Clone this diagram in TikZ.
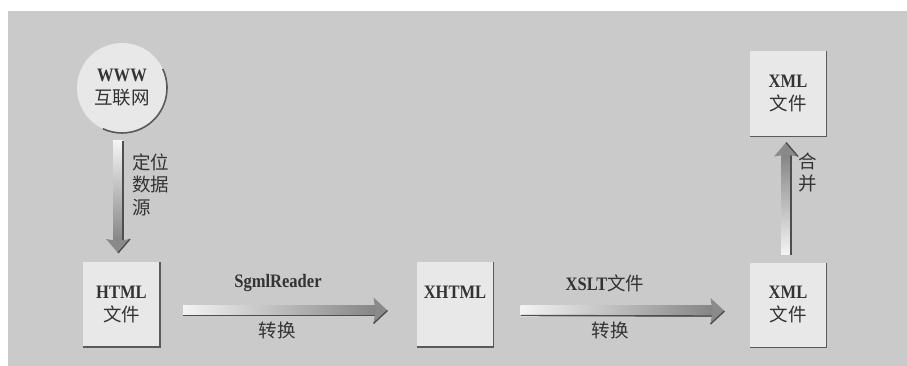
\documentclass[tikz,border=0pt]{standalone}
\usepackage{fontspec}
\setmainfont{Liberation Serif}[FakeStretch=0.87]
\newfontfamily\cjk{Noto Sans CJK SC}
\usetikzlibrary{calc}
\definecolor{bg}{HTML}{CACACA}
\definecolor{boxfill}{HTML}{E8E8E8}
\definecolor{txt}{HTML}{333333}
\definecolor{shadowc}{HTML}{5A5A5A}
\definecolor{shLight}{HTML}{F4F4F4}
\definecolor{shMid}{HTML}{C2C2C2}
\definecolor{shDark}{HTML}{858585}
\definecolor{headc}{HTML}{8A8A8A}
\definecolor{edgec}{HTML}{4E4E4E}
\tikzset{
  doc/.style={fill=boxfill, minimum width=77pt, minimum height=85pt, inner sep=0pt, outer sep=0pt,
    align=center, text=txt, font=\bfseries\fontsize{19}{23}\selectfont},
  shadowln/.style={draw=shadowc, line width=1.6pt},
  lbl/.style={text=txt, inner sep=1pt, font=\bfseries\fontsize{19}{22}\selectfont},
  cjklbl/.style={text=txt, inner sep=1pt, align=left, font=\cjk\fontsize{18.5}{22.5}\selectfont},
  arrline/.style={draw=edgec, line width=1.4pt},
}
\newcommand\cj[1]{{\cjk\mdseries\fontsize{18.5}{23}\selectfont #1}}
\newcommand\fatright[2]{%
  \shade[left color=shLight, middle color=shMid, right color=shDark] ($(#1)+(0,5)$) rectangle ($(#2)+(-12,-5)$);
  \draw[arrline] ($(#1)+(0,-5)$) -- ($(#2)+(-12,-5)$);
  \fill[headc] ($(#2)+(-14,13)$) -- (#2) -- ($(#2)+(-14,-13)$) -- ($(#2)+(-12,0)$) -- cycle;
  \draw[arrline] (#2) -- ($(#2)+(-14,-13)$);
}
\newcommand\fatdown[2]{%
  \shade[top color=shLight, middle color=shMid, bottom color=shDark] ($(#1)+(-5,0)$) rectangle ($(#2)+(5,12)$);
  \draw[arrline] ($(#1)+(5,0)$) -- ($(#2)+(5,12)$);
  \fill[headc] ($(#2)+(-12,14)$) -- (#2) -- ($(#2)+(12,14)$) -- ($(#2)+(0,12)$) -- cycle;
  \draw[arrline] (#2) -- ($(#2)+(12,14)$);
}
\newcommand\fatup[2]{%
  \shade[bottom color=shLight, middle color=shMid, top color=shDark] ($(#1)+(-5,0)$) rectangle ($(#2)+(5,-12)$);
  \draw[arrline] ($(#1)+(5,0)$) -- ($(#2)+(5,-12)$);
  \fill[headc] ($(#2)+(-12,-14)$) -- (#2) -- ($(#2)+(12,-14)$) -- ($(#2)+(0,-12)$) -- cycle;
  \draw[arrline] (#2) -- ($(#2)+(12,-14)$);
}
\begin{document}
\begin{tikzpicture}[x=1pt,y=1pt]
\useasboundingbox (0,0) rectangle (907,-366);
\fill[white] (0,0) rectangle (907,-366);
\fill[bg] (8,-11) rectangle (907,-366);

% circle
\node[circle, fill=boxfill, minimum size=90pt, inner sep=0pt, outer sep=0pt, align=center, text=txt,
  font=\bfseries\fontsize{19}{23}\selectfont] (www) at (122,-88) {WWW\\\cj{互联网}};
\draw[shadowln] (www.25) arc[start angle=25, end angle=-115, radius=45pt];

% boxes
\node[doc] (html) at (121.5,-304.5) {HTML\\\cj{文件}};
\node[doc] (xhtml) at (455,-304.5) {XHTML\\\phantom{\cj{文件}}};
\node[doc] (xml) at (788,-305) {XML\\\cj{文件}};
\node[doc] (xmltop) at (788,-94) {XML\\\cj{文件}};
\foreach \b in {html,xhtml,xml,xmltop}
  \draw[shadowln] (\b.north east) -- (\b.south east) -- (\b.south west);

% connectors
\coordinate (a1s) at ($(html.east)+(23,-6)$);
\coordinate (a1e) at ($(xhtml.west)+(-29,-6)$);
\coordinate (a2s) at ($(xhtml.east)+(27,-6)$);
\coordinate (a2e) at ($(xml.west)+(-25,-6)$);
\coordinate (a3s) at ($(www.south)+(-4,-8)$);
\coordinate (a3e) at ($(html.north)+(-3.5,9)$);
\coordinate (a4s) at ($(xml.north)+(-2,8)$);
\coordinate (a4e) at ($(xmltop.south)+(-2,-6)$);
\fatright{a1s}{a1e}
\fatright{a2s}{a2e}
\fatdown{a3s}{a3e}
\fatup{a4s}{a4e}

% labels
\node[lbl] (l1) at (278,-283) {SgmlReader};
\node[cjklbl] (l2) at (277,-330) {转换};
\node[lbl] (l3) at (605,-283) {XSLT\cj{文件}};
\node[cjklbl] (l4) at (610,-330) {转换};
\node[cjklbl, anchor=west] (l5) at (131,-184.5) {定位\\数据\\源};
\node[cjklbl, anchor=west] (l6) at (797,-172.5) {合\\并};
\end{tikzpicture}
\end{document}
